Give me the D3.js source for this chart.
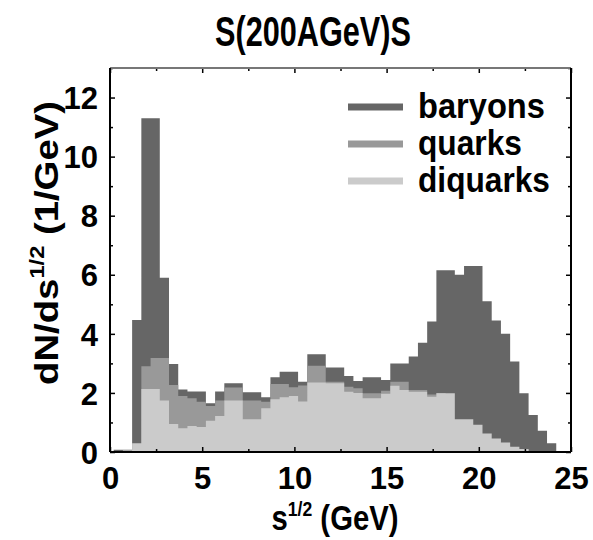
<!DOCTYPE html>
<html><head><meta charset="utf-8">
<script src="https://cdn.jsdelivr.net/npm/d3@7"></script>
<style>body{margin:0;background:#fff}text{font-family:"Liberation Sans",Arial,sans-serif;font-weight:bold}</style>
</head><body><svg id="c" width="593" height="540"></svg>
<script>
// bin left edges (GeV), bin width 0.5
const binEdges = [0.2,0.7,1.2,1.7,2.2,2.7,3.2,3.7,4.2,4.7,5.2,5.7,6.2,6.7,7.2,7.7,8.2,8.7,9.2,9.7,10.2,10.7,11.2,11.7,12.2,12.7,13.2,13.7,14.2,14.7,15.2,15.7,16.2,16.7,17.2,17.7,18.2,18.7,19.2,19.7,20.2,20.7,21.2,21.7,22.2,22.7,23.2,23.7];
const binWidth = 0.5;
const baryons = [0.08,0.08,4.47,11.3,11.3,5.9,2.98,2.12,2.05,2.05,1.65,2.05,2.33,2.33,2.02,2.02,1.85,2.53,2.72,2.72,2.38,3.31,3.31,2.86,2.86,2.57,2.4,2.53,2.53,2.44,3.0,3.0,3.23,3.7,4.42,6.15,6.15,6.0,6.3,6.3,5.1,4.45,4.0,3.06,1.99,1.25,0.72,0.3];
const quarks = [0.03,0.05,0.25,2.9,3.18,3.18,2.27,1.9,1.82,1.7,1.56,1.74,2.18,2.18,1.74,1.74,1.7,2.3,2.3,2.19,2.25,2.92,2.92,2.38,2.38,2.21,2.16,1.99,1.99,2.07,2.38,2.38,2.1,2.1,1.95,2.0,0.9,0.85,0.6,0.55,0.4,0.3,0.2,0.1,0.05,0.02,0,0];
const diquarks = [0,0.05,0.3,2.13,2.13,1.74,0.95,0.8,0.88,0.85,1.06,1.22,1.74,1.74,1.11,1.11,1.48,1.79,1.85,1.9,1.71,2.35,2.35,2.33,2.33,2.04,2.0,1.82,1.82,1.97,2.24,2.1,2.04,2.04,1.87,1.99,1.99,1.11,1.11,0.92,0.63,0.46,0.32,0.18,0.1,0.03,0,0];
const seriesNames = ["baryons","quarks","diquarks"];
const seriesColors = ["#666666","#999999","#cbcbcb"];
const xTicks = [0,5,10,15,20,25];
const yTicks = [0,2,4,6,8,10,12];
const title = "S(200AGeV)S";

const svg = d3.select("#c");
const L=110, R=571, T=68, B=452;
const x = d3.scaleLinear().domain([0,25]).range([L,R]);
const y = d3.scaleLinear().domain([0,13]).range([B,T]);

svg.append("defs").append("clipPath").attr("id","clip").append("rect")
  .attr("x",L).attr("y",T).attr("width",R-L).attr("height",B-T);

const area = d3.area().curve(d3.curveStepAfter)
  .x(d=>x(d[0])).y0(y(0)).y1(d=>y(d[1]));
const allSeries = [baryons, quarks, diquarks];
const g = svg.append("g").attr("clip-path","url(#clip)");
allSeries.forEach((vals,i)=>{
  const pts = binEdges.map((e,j)=>[e, vals[j]]);
  pts.push([binEdges[binEdges.length-1]+binWidth, vals[vals.length-1]]);
  g.append("path").datum(pts).attr("d",area).attr("fill",seriesColors[i]);
});

// axes
function ax(gen, tx, ty){ return svg.append("g").attr("transform",`translate(${tx},${ty})`).call(gen); }
const minorX=[2.5,7.5,12.5,17.5,22.5], minorY=[1,3,5,7,9,11,13];
const xa = ax(d3.axisBottom(x).tickValues(xTicks).tickSize(-5).tickPadding(15).tickFormat(d3.format("d")), 0, B);
const xm = ax(d3.axisBottom(x).tickValues(minorX).tickSize(-3).tickFormat(""), 0, B);
const xt = ax(d3.axisTop(x).tickValues(xTicks).tickSize(-5).tickFormat(""), 0, T);
const xtm = ax(d3.axisTop(x).tickValues(minorX).tickSize(-3).tickFormat(""), 0, T);
const ya = ax(d3.axisLeft(y).tickValues(yTicks).tickSize(-5).tickPadding(12).tickFormat(d3.format("d")), L, 0);
const ym = ax(d3.axisLeft(y).tickValues(minorY).tickSize(-3).tickFormat(""), L, 0);
const yr = ax(d3.axisRight(y).tickValues(yTicks).tickSize(-5).tickFormat(""), R, 0);
const yrm = ax(d3.axisRight(y).tickValues(minorY).tickSize(-3).tickFormat(""), R, 0);
[xa,xm,xt,xtm,ya,ym,yr,yrm].forEach(a=>{a.select(".domain").remove(); a.selectAll("line").attr("stroke","#000").attr("stroke-width",1.5);});
xa.selectAll("text").attr("font-size",31).attr("fill","#000");
ya.selectAll("text").attr("font-size",31).attr("fill","#000").attr("dy","0.36em");

// frame
svg.append("line").attr("x1",L).attr("x2",R).attr("y1",T).attr("y2",T).attr("stroke","#777").attr("stroke-width",2);
svg.append("line").attr("x1",L).attr("x2",L).attr("y1",T).attr("y2",B).attr("stroke","#000").attr("stroke-width",2);
svg.append("line").attr("x1",R).attr("x2",R).attr("y1",T).attr("y2",B).attr("stroke","#000").attr("stroke-width",2);
svg.append("line").attr("x1",L).attr("x2",R).attr("y1",B).attr("y2",B).attr("stroke","#000").attr("stroke-width",2);

// helper: squeeze text horizontally to target width
function squeeze(textSel, w){
  const n = textSel.node().getComputedTextLength();
  textSel.attr("transform", `scale(${w / n},1)`);
}

// title
const tg = svg.append("g").attr("transform","translate(313,46)");
const tt = tg.append("text").attr("text-anchor","middle").attr("font-size",42).text(title);
squeeze(tt, 196);

// legend
const legW = [127,104,132];
seriesNames.forEach((n,i)=>{
  const yy = 107 + i*37;
  svg.append("line").attr("x1",348).attr("x2",403).attr("y1",yy).attr("y2",yy).attr("stroke",seriesColors[i]).attr("stroke-width",7);
  const lg = svg.append("g").attr("transform",`translate(418,${yy+11})`);
  const lt = lg.append("text").attr("font-size",35).text(n);
  squeeze(lt, legW[i]);
});

// x label
const xg = svg.append("g").attr("transform","translate(335,530)");
const xl = xg.append("text").attr("text-anchor","middle").attr("font-size",35);
xl.append("tspan").text("s");
xl.append("tspan").attr("dy",-14).attr("font-size",21).text("1/2");
xl.append("tspan").attr("dy",14).text(" (GeV)");
squeeze(xl, 127);

// y label
const yg = svg.append("g").attr("transform","translate(58,243) rotate(-90)");
const yl = yg.append("text").attr("text-anchor","middle").attr("font-size",34);
yl.append("tspan").text("dN/ds");
yl.append("tspan").attr("dy",-14).attr("font-size",21).text("1/2");
yl.append("tspan").attr("dy",14).text(" (1/GeV)");
squeeze(yl, 284);
</script></body></html>
